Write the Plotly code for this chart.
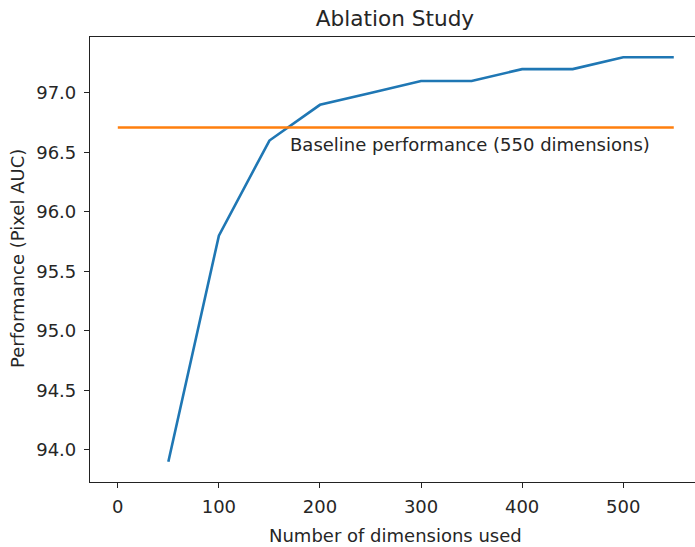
import plotly.graph_objects as go

dims = [50, 100, 150, 200, 250, 300, 350, 400, 450, 500, 550]
perf = [93.9, 95.8, 96.6, 96.9, 97.0, 97.1, 97.1, 97.2, 97.2, 97.3, 97.3]
baseline_x = [0, 550]
baseline_y = [96.71, 96.71]
xticks = [0, 100, 200, 300, 400, 500]
yticks = [94.0, 94.5, 95.0, 95.5, 96.0, 96.5, 97.0]

FONT = "DejaVu Sans"
TXT = "#262626"
FS = 18

W, H = 695, 547
L, R, T, B = 90, 0, 37, 65
PW, PH = W - L - R, H - T - B

fig = go.Figure()
fig.add_trace(go.Scatter(x=dims, y=perf, mode="lines",
                         line=dict(color="#1f77b4", width=2.6), showlegend=False))
fig.add_trace(go.Scatter(x=baseline_x, y=baseline_y, mode="lines",
                         line=dict(color="#ff7f0e", width=2.6), showlegend=False))

fig.add_annotation(x=170, y=96.5, xref="x", yref="y", text="Baseline performance (550 dimensions)",
                   showarrow=False, xanchor="left", yanchor="bottom",
                   font=dict(family=FONT, size=FS, color=TXT), xshift=-2, yshift=-5)

# axis titles (positions given in pixels, converted to plot-area fractions)
fig.add_annotation(x=(395 - L) / PW, y=(H - B - 535) / PH, xref="paper", yref="paper",
                   text="Number of dimensions used", showarrow=False,
                   xanchor="center", yanchor="middle",
                   font=dict(family=FONT, size=FS, color=TXT))
fig.add_annotation(x=(17 - L) / PW, y=(H - B - 259) / PH, xref="paper", yref="paper",
                   text="Performance (Pixel AUC)", showarrow=False, textangle=-90,
                   xanchor="center", yanchor="middle",
                   font=dict(family=FONT, size=FS, color=TXT))

fig.update_layout(
    width=W, height=H,
    margin=dict(l=L, r=R, t=T, b=B, autoexpand=False),
    paper_bgcolor="white", plot_bgcolor="white",
    font=dict(family=FONT, size=FS, color=TXT),
    title=dict(text="Ablation Study", x=395 / W, xref="container", xanchor="center",
               y=1 - 18 / H, yref="container", yanchor="middle",
               font=dict(family=FONT, size=21.6, color=TXT)),
)
fig.update_xaxes(range=[-27.5, 571.0], tickvals=xticks, ticktext=[str(v) for v in xticks],
                 showgrid=False, zeroline=False, showline=True, linecolor="#222", linewidth=1.2,
                 mirror=True, ticks="outside", ticklen=5, tickcolor="#222", tickwidth=1.2,
                 automargin=False, ticklabelstandoff=3,
                 tickfont=dict(family=FONT, size=FS, color=TXT))
fig.update_yaxes(range=[93.73, 97.47], tickvals=yticks, ticktext=[f"{v:.1f}" for v in yticks],
                 showgrid=False, zeroline=False, showline=True, linecolor="#222", linewidth=1.2,
                 mirror=False, ticks="outside", ticklen=5, tickcolor="#222", tickwidth=1.2,
                 automargin=False, ticklabelstandoff=4,
                 tickfont=dict(family=FONT, size=FS, color=TXT))

fig.write_html("out.html", config={"displayModeBar": False})

# remove the browser's default body margin so the figure sits at the page origin
with open("out.html", "r", encoding="utf-8") as f:
    html = f.read()
html = html.replace("<body>", '<body style="margin:0;padding:0;overflow:hidden">', 1)
with open("out.html", "w", encoding="utf-8") as f:
    f.write(html)
